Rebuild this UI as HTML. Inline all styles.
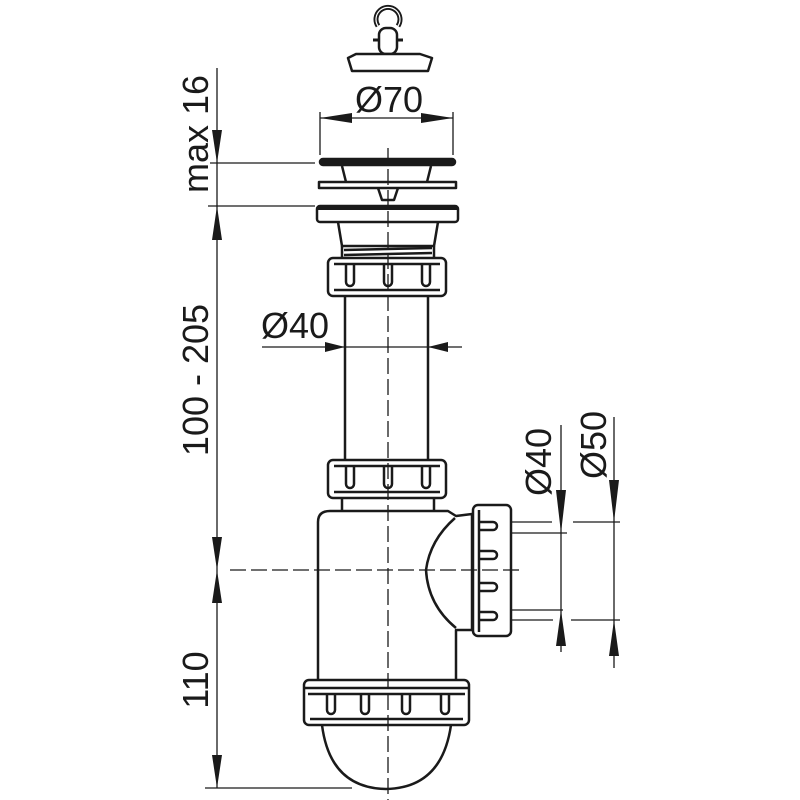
<!DOCTYPE html>
<html><head><style>html,body{margin:0;padding:0;background:#fff}svg{display:block}</style></head>
<body>
<svg width="800" height="800" viewBox="0 0 800 800" xmlns="http://www.w3.org/2000/svg" font-family="Liberation Sans, sans-serif">
<rect width="800" height="800" fill="#fff"/>
<g fill="none" stroke="#1a1a1a" stroke-width="2.5" stroke-linejoin="round">
<!-- plug -->
<path d="M378 26 A12 12 0 1 1 398 26" stroke-width="5"/>
<path d="M378 26 A12 12 0 1 1 398 26" stroke="#fff" stroke-width="1.2"/>
<path d="M373 40 L403 40" stroke-width="3"/>
<rect x="379" y="28" width="18" height="26" rx="7" fill="#fff"/>
<path d="M356 54 L420 54 L432 58 L428 71 L352 71 L348 58 Z" fill="#fff"/>
<!-- flange -->
<rect x="320" y="159" width="135" height="6" rx="3" fill="#1a1a1a"/>
<path d="M342 166 L346 182 M431 166 L427 182"/>
<rect x="319" y="182" width="137" height="6" fill="#fff"/>
<path d="M378 188 L382 200 L394 200 L398 188"/>
<rect x="317" y="206" width="141" height="16" rx="3" fill="#fff"/>
<rect x="317" y="206" width="141" height="4" fill="#1a1a1a" stroke="none"/>
<path d="M338 222 L342 246 L434 246 L438 222"/>
<path d="M342 246 L342 258 M434 246 L434 258 M344 250 L432 248 M344 255 L432 253"/>
<!-- nut 1 -->
<rect x="328" y="258" width="118" height="38" rx="5" fill="#fff"/>
<path d="M334 264 L440 264 M334 290 L440 290"/>
<path d="M346 264 v18 a4 4 0 0 0 8 0 v-18 M384 264 v18 a4 4 0 0 0 8 0 v-18 M422 264 v18 a4 4 0 0 0 8 0 v-18"/>
<!-- pipe -->
<path d="M345 296 L345 460 M428 296 L428 460"/>
<!-- nut 2 -->
<rect x="328" y="460" width="118" height="38" rx="5" fill="#fff"/>
<path d="M334 466 L440 466 M334 492 L440 492"/>
<path d="M346 466 v18 a4 4 0 0 0 8 0 v-18 M384 466 v18 a4 4 0 0 0 8 0 v-18 M422 466 v18 a4 4 0 0 0 8 0 v-18"/>
<path d="M342 498 L342 512 M434 498 L434 512"/>
<!-- body -->
<path d="M318 682 L318 522 Q318 511 330 511 L448 511 L456 516 L472 514 L472 630 L456 630 L456 682"/>
<path d="M455 518 Q430 540 426 570 Q428 605 456 628"/>
<!-- side nut -->
<rect x="473" y="505" width="38" height="131" rx="5" fill="#fff"/>
<path d="M479 510 L479 632"/>
<path d="M479 522 h14 a4 4 0 0 1 0 8 h-14 M479 551 h14 a4 4 0 0 1 0 8 h-14 M479 583 h14 a4 4 0 0 1 0 8 h-14 M479 612 h14 a4 4 0 0 1 0 8 h-14"/>
<!-- bottom nut -->
<rect x="304" y="680" width="165" height="45" rx="5" fill="#fff"/>
<path d="M304 688 L469 688 M308 694 L465 694 M310 719 L463 719"/>
<path d="M327 694 v16 a4 4 0 0 0 8 0 v-16 M361 694 v16 a4 4 0 0 0 8 0 v-16 M402 694 v16 a4 4 0 0 0 8 0 v-16 M441 694 v16 a4 4 0 0 0 8 0 v-16"/>
<!-- bowl -->
<path d="M322 725 Q330 788 386 789 Q442 788 451 725"/>
</g>
<!-- centerlines -->
<g stroke="#1a1a1a" stroke-width="1.3" fill="none" stroke-dasharray="16 5">
<path d="M388 148 L388 800"/>
<path d="M230 570 L520 570"/>
</g>
<!-- dimensions -->
<g stroke="#1a1a1a" stroke-width="1.3" fill="none">
<path d="M320 112 L320 155 M453 112 L453 155 M320 118 L453 118"/>
<path d="M217 68 L217 788"/>
<path d="M210 163 L315 163 M208 206 L315 206 M205 788 L352 788"/>
<path d="M262 347 L462 347"/>
<path d="M561 425 L561 652 M614 417 L614 668"/>
<path d="M512 522 L552 522 M573 522 L620 522 M512 533 L567 533 M512 610 L563 610 M512 620 L553 620 M571 620 L620 620"/>
</g>
<g fill="#1a1a1a">
<path d="M320 118 L352 113 L352 123 Z M453 118 L421 113 L421 123 Z"/>
<path d="M217 163 L212 130 L222 130 Z M217 206 L212 240 L222 240 Z M217 570 L212 537 L222 537 Z M217 570 L212 603 L222 603 Z M217 788 L212 755 L222 755 Z"/>
<path d="M345 347 L325 342 L325 352 Z M428 347 L448 342 L448 352 Z"/>
<path d="M561 533 L556 490 L566 490 Z M561 610 L556 646 L566 646 Z M614 522 L609 480 L619 480 Z M614 620 L609 656 L619 656 Z"/>
</g>
<g font-size="36" fill="#1a1a1a" text-anchor="middle">
<text x="389" y="112">Ø70</text>
<text x="295" y="338">Ø40</text>
<text transform="translate(208,134) rotate(-90)">max 16</text>
<text transform="translate(208,380) rotate(-90)">100 - 205</text>
<text transform="translate(208,680) rotate(-90)">110</text>
<text transform="translate(551,462) rotate(-90)">Ø40</text>
<text transform="translate(606,445) rotate(-90)">Ø50</text>
</g>
</svg>
</body></html>
